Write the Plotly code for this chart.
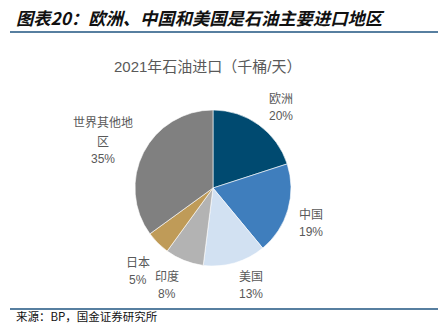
import plotly.graph_objects as go

# Data
regions = ["欧洲", "中国", "美国", "印度", "日本", "世界其他地<br>区"]
shares = [20, 19, 13, 8, 5, 35]
colors = ["#004a70", "#3f7ebd", "#d2e1f2", "#b3b3b3", "#bf9b58", "#808080"]

heading = "图表20：欧洲、中国和美国是石油主要进口地区"
chart_title = "2021年石油进口（千桶/天）"
source = "来源：BP，国金证券研究所"

W, H = 438, 324
FONT = "Liberation Sans, Arial, Noto Sans CJK SC, sans-serif"
LABEL_COLOR = "#595959"

# Layout: label (first line) centre positions in pixels, one per slice
label_pos_px = [(280.5, 99), (310.5, 215), (251.3, 276.7), (166.7, 276.7), (138, 263.3), (103, 122.7)]
NAME_STEP = 19.6
PCT_STEP = 17.0

fig = go.Figure(go.Pie(
    labels=regions,
    values=shares,
    sort=False,
    direction="clockwise",
    rotation=0,
    marker=dict(colors=colors, line=dict(color="white", width=0.6)),
    textinfo="none",
    domain=dict(x=[(213 - 78) / W, (213 + 78) / W], y=[(H - 188 - 78) / H, (H - 188 + 78) / H]),
    showlegend=False,
    hoverinfo="skip",
))


def px2paper(x, y):
    return x / W, 1 - y / H


annotations = []
total = sum(shares)
for name, val, (lx, ly) in zip(regions, shares, label_pos_px):
    lines = name.split("<br>")
    y = ly
    for k, line in enumerate(lines):
        if k > 0:
            y += NAME_STEP
        px, py = px2paper(lx, y)
        annotations.append(dict(text=line, xref="paper", yref="paper", x=px, y=py,
                                xanchor="center", yanchor="middle", showarrow=False,
                                font=dict(size=12, color=LABEL_COLOR, family=FONT)))
    y += PCT_STEP
    px, py = px2paper(lx, y)
    annotations.append(dict(text=f"{round(val / total * 100)}%", xref="paper", yref="paper", x=px, y=py,
                            xanchor="center", yanchor="middle", showarrow=False,
                            font=dict(size=12, color=LABEL_COLOR, family=FONT)))

hx, hy = px2paper(14, 17)
tx, ty = px2paper(208, 66)
sx, sy = px2paper(14, 315.5)
annotations += [
    dict(text=heading, xref="paper", yref="paper", x=hx, y=hy, xanchor="left", yanchor="middle",
         showarrow=False, font=dict(size=17.3, color="#111111", family="Noto Sans CJK SC", weight="bold", style="italic")),
    dict(text=chart_title, xref="paper", yref="paper", x=tx, y=ty, xanchor="center", yanchor="middle",
         showarrow=False, font=dict(size=15, color="#595959", family=FONT)),
    dict(text=source, xref="paper", yref="paper", x=sx, y=sy, xanchor="left", yanchor="middle",
         showarrow=False, font=dict(size=11.5, color="#111111", family="Noto Sans CJK SC")),
]

fig.update_layout(
    width=W, height=H,
    margin=dict(l=0, r=0, t=0, b=0),
    paper_bgcolor="white",
    plot_bgcolor="white",
    font=dict(family=FONT),
    shapes=[
        dict(type="line", xref="paper", yref="paper", x0=10 / W, x1=1, y0=1 - 32 / H, y1=1 - 32 / H,
             line=dict(color="#1f5480", width=1.5)),
        dict(type="line", xref="paper", yref="paper", x0=10 / W, x1=1, y0=1 - 309 / H, y1=1 - 309 / H,
             line=dict(color="#1f5480", width=1.5)),
    ],
    annotations=annotations,
)

fig.write_html("out.html")
